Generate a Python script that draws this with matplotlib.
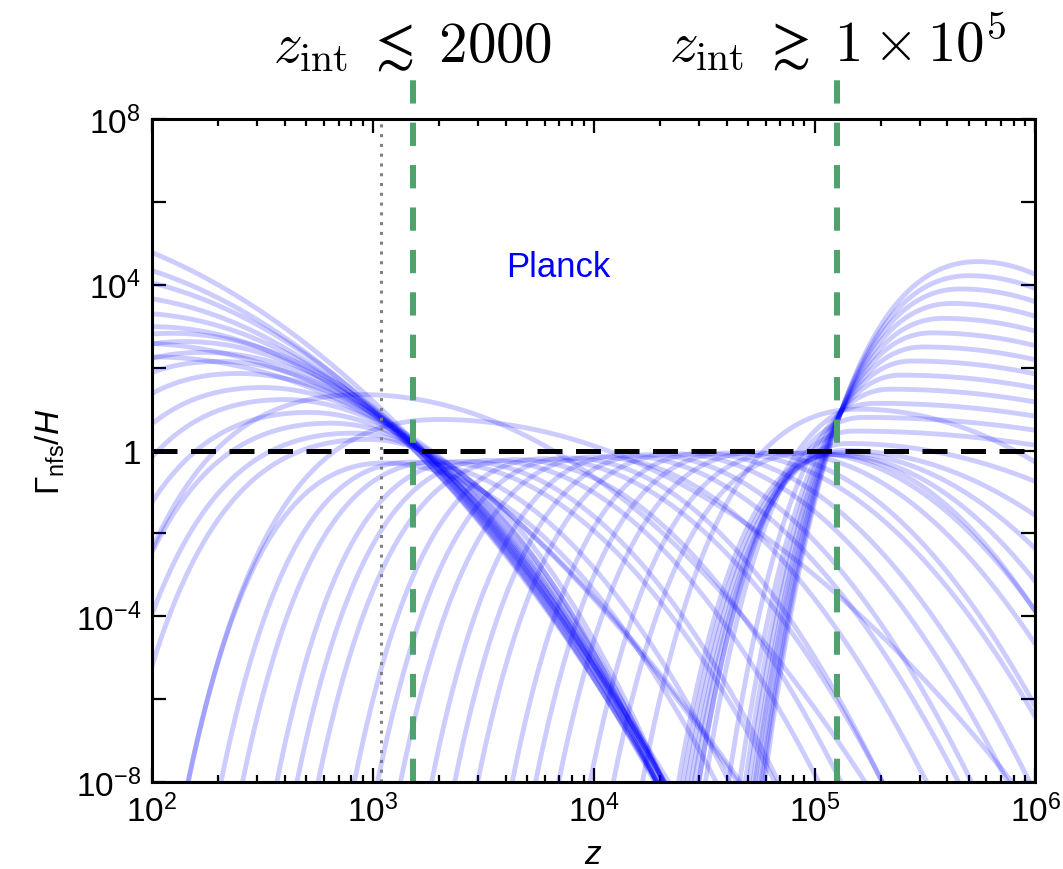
import numpy as np
import matplotlib
matplotlib.use("Agg")
from matplotlib import pyplot as plt
from matplotlib import ticker
from matplotlib.transforms import blended_transform_factory

plt.rcParams['font.family'] = ['Liberation Sans', 'DejaVu Sans']
plt.rcParams['mathtext.fontset'] = 'custom'
plt.rcParams['mathtext.rm'] = 'Liberation Sans'
plt.rcParams['mathtext.it'] = 'Liberation Sans:italic'
plt.rcParams['mathtext.bf'] = 'Liberation Sans:bold'

# every sampled curve: peak position (log10 z), peak height (log10 Gamma/H),
# steepness of the low-z side and curvature of the high-z side
# -- rates that are large at late times and fall through z ~ 2000
left_peak_logz = [1.22, 1.46, 1.61, 1.77, 1.90, 2.00, 2.09, 2.15, 2.23,
                  2.30, 2.39, 2.50, 2.60, 2.71, 2.81, 2.91, 2.98,
                  2.00, 1.90, 2.95, 3.30]
left_peak_logy = [5.63, 4.81, 4.30, 3.76, 3.32, 2.99, 2.83, 2.63, 2.37,
                  2.15, 1.86, 1.52, 1.23, 0.92, 0.66, 0.42, 0.27,
                  2.26, 2.60, 1.35, 0.75]
left_lo = [2.0, 2.0, 2.0, 2.0, 2.0, 2.0, 2.0, 2.0, 2.0,
           2.0, 2.0, 2.0, 2.0, 2.0, 2.0, 2.0, 2.0,
           2.0, 2.0, 1.5, 2.0]
left_hi = [1.40, 1.60, 1.68, 1.86, 1.93, 2.12, 2.18, 2.33, 2.38,
           2.58, 2.66, 2.98, 3.12, 3.60, 3.85, 4.45, 4.65,
           1.446, 1.40, 1.80, 1.30]

# -- rates that stay at or below ~1 inside the window
mid_peak_logz = [3.05, 3.17, 3.29, 3.41, 3.53, 3.65, 3.77, 3.89, 4.01,
                 4.13, 4.25, 4.37, 4.49, 4.61, 4.73, 4.85, 4.97]
mid_peak_logy = [-0.30, -0.28, -0.27, -0.26, -0.24, -0.22, -0.20, -0.18,
                 -0.15, -0.12, -0.10, -0.08, -0.07, -0.06, -0.05, -0.05,
                 -0.05]
mid_lo = [3.8, 4.2, 3.9, 4.4, 4.0, 3.7, 4.3, 4.1, 3.9,
          4.2, 4.0, 3.8, 4.3, 4.1, 3.9, 4.2, 4.0]
mid_hi = [3.4, 3.7, 3.3, 3.8, 3.5, 3.6, 3.3, 3.9, 3.5,
          3.4, 3.7, 3.5, 3.6, 3.3, 3.8, 3.5, 3.6]

# -- rates that switch on above z ~ 1e5
right_peak_logz = [5.74, 5.70, 5.66, 5.62, 5.58, 5.53, 5.49, 5.44, 5.39,
                   5.34, 5.28, 5.22, 5.18, 5.15, 5.13, 5.11, 5.09, 5.07,
                   5.20]
right_peak_logy = [4.56, 4.22, 3.90, 3.55, 3.19, 2.84, 2.50, 2.16, 1.82,
                   1.48, 1.14, 0.80, 0.47, 0.17, 0.00, -0.05, -0.10, -0.10,
                   1.00]
right_lo = [4.79, 5.15, 5.57, 5.94, 6.28, 6.99, 7.3, 7.97, 8.43,
            8.13, 5.98, 8.0, 8.0, 8.0, 8.0, 8.0, 8.0, 8.0,
            3.3]
right_hi = [4.59, 3.44, 2.68, 2.15, 1.76, 1.40, 1.19, 0.99, 0.83,
            0.71, 0.60, 0.51, 0.51, 1.27, 2.07, 2.93, 3.70, 4.38,
            2.0]

z_dec = 1517.0      # z_int <~ 2000 marker
z_rec = 1.27e5      # z_int >~ 1e5 marker
z_star = 1090.0     # recombination (dotted)


def curve(z, logz_pk, logy_pk, k_lo, k_hi):
    x = np.log10(z)
    r = z / 10**logz_pk
    lo = logy_pk - k_lo * np.log10(np.e) * (np.log(r) + 1.0 / r - 1.0)
    hi = logy_pk - k_hi * (x - logz_pk)**2
    return 10**np.clip(np.where(x < logz_pk, lo, hi), -30, 30)


fig = plt.figure(figsize=(10.63, 8.70), dpi=100)
ax = fig.add_axes([0.143, 0.100, 0.831, 0.762])

z = np.logspace(2, 6, 1500)
for pz, py, klo, khi in zip(left_peak_logz + mid_peak_logz + right_peak_logz,
                            left_peak_logy + mid_peak_logy + right_peak_logy,
                            left_lo + mid_lo + right_lo,
                            left_hi + mid_hi + right_hi):
    ax.plot(z, curve(z, pz, py, klo, khi), color='blue', alpha=0.2, lw=3.5,
            solid_capstyle='butt')

ax.set_xscale('log')
ax.set_yscale('log')
ax.set_xlim(1e2, 1e6)
ax.set_ylim(1e-8, 1e8)

ax.axvline(z_star, color='#808080', lw=2.2, dashes=(1.0, 2.2))
ax.plot([z_dec, z_dec], [1e-8, 1e9], color='#4ca36c', lw=4.3,
        dashes=(3.9, 3.2), clip_on=False)
ax.plot([z_rec, z_rec], [1e-8, 1e9], color='#4ca36c', lw=4.3,
        dashes=(3.9, 3.2), clip_on=False)
ax.axhline(1.0, color='black', lw=3.6, dashes=(5.0, 2.7))

ax.text(6900, 10**4.44, 'Planck', color='blue', fontsize=25,
        ha='center', va='center')

trans = blended_transform_factory(ax.transData, fig.transFigure)
ax.text(z_dec, 0.929, r'$z_{\rm int}\;\lesssim\;2000$', transform=trans,
        ha='center', va='baseline', fontsize=41, math_fontfamily='cm')
ax.text(z_rec, 0.929, r'$z_{\rm int}\;\gtrsim\;1\times 10^5$',
        transform=trans, ha='center', va='baseline', fontsize=41,
        math_fontfamily='cm')

ax.set_xlabel(r'$z$', fontsize=24, labelpad=8)
ax.set_ylabel(r'$\Gamma_{\rm nfs}/H$', fontsize=24, labelpad=6)

ax.xaxis.set_major_locator(ticker.LogLocator(base=10, numticks=10))
ax.xaxis.set_minor_locator(ticker.LogLocator(base=10, subs=np.arange(2, 10),
                                             numticks=50))
ax.xaxis.set_minor_formatter(ticker.NullFormatter())
ax.xaxis.set_major_formatter(ticker.FuncFormatter(
    lambda v, p: r'$10^{%d}$' % round(np.log10(v))))

y_ticks = [10.0**e for e in range(-8, 9, 2)]
ax.yaxis.set_major_locator(ticker.FixedLocator(y_ticks))
ax.yaxis.set_minor_locator(ticker.NullLocator())


def ylab(v, p):
    e = int(round(np.log10(v)))
    if e % 4:
        return ''
    if e == 0:
        return '1'
    return r'$10^{%d}$' % e


ax.yaxis.set_major_formatter(ticker.FuncFormatter(ylab))

ax.tick_params(which='both', direction='in', top=True, right=True,
               labelsize=24, width=1.6)
ax.tick_params(which='major', length=10, pad=8)
ax.tick_params(which='minor', length=5)
for s in ax.spines.values():
    s.set_linewidth(2.2)

fig.savefig('out.png', dpi=100)
